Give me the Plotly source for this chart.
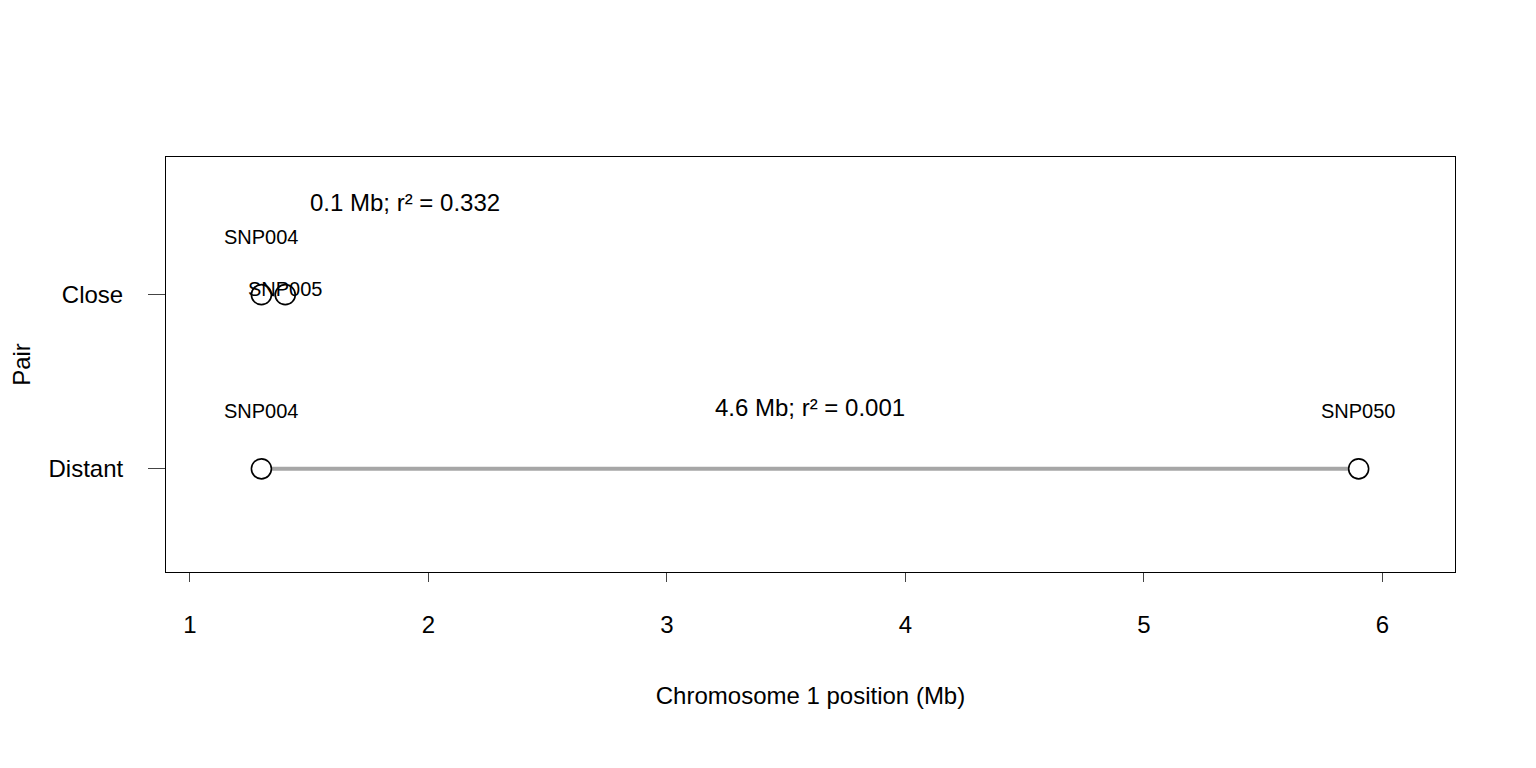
import plotly.graph_objects as go

pairs = ["Distant", "Close"]
pair_y = [1, 2]
snp_a = ["SNP004", "SNP004"]
snp_b = ["SNP050", "SNP005"]
pos_a = [1.3, 1.3]
pos_b = [5.9, 1.4]
dist_mb = [4.6, 0.1]
r2 = [0.001, 0.332]
x_ticks = [1, 2, 3, 4, 5, 6]

F = "Liberation Sans, Arial, sans-serif"
fig = go.Figure()
for i in range(len(pairs)):
    y = pair_y[i]
    fig.add_trace(go.Scatter(x=[pos_a[i], pos_b[i]], y=[y, y], mode="lines",
                             line=dict(color="#a6a6a6", width=4), showlegend=False, hoverinfo="skip"))
    fig.add_trace(go.Scatter(x=[pos_a[i], pos_b[i]], y=[y, y], mode="markers",
                             marker=dict(size=20, color="white", line=dict(color="black", width=1.6)),
                             showlegend=False))
    fig.add_annotation(x=pos_a[i], y=y + 0.33, text=snp_a[i], showarrow=False,
                       font=dict(size=20, family=F, color="black"))
    if abs(pos_b[i] - pos_a[i]) < 0.5:
        fig.add_annotation(x=pos_b[i], y=y + 0.03, text=snp_b[i], showarrow=False,
                           font=dict(size=20, family=F, color="black"))
        ty = y + 0.53
    else:
        fig.add_annotation(x=pos_b[i], y=y + 0.33, text=snp_b[i], showarrow=False,
                           font=dict(size=20, family=F, color="black"))
        ty = y + 0.35
    fig.add_annotation(x=(pos_a[i] + pos_b[i]) / 2 if i == 0 else 1.9, y=ty,
                       text=f"{dist_mb[i]} Mb; r² = {r2[i]:.3f}", showarrow=False,
                       font=dict(size=24, family=F, color="black"))

fig.update_layout(
    width=1536, height=768, plot_bgcolor="white", paper_bgcolor="white",
    margin=dict(l=149, r=89, t=149, b=204),
    font=dict(family=F, size=24, color="black"),
    xaxis=dict(range=[0.9, 6.304], tickvals=x_ticks, ticks="outside", ticklen=9,
               showgrid=False, zeroline=False, showline=True, mirror=True,
               linecolor="black", tickfont=dict(size=24), ticklabelstandoff=22,
               title=dict(text="Chromosome 1 position (Mb)", font=dict(size=24), standoff=50)),
    yaxis=dict(range=[0.408, 2.79], tickvals=pair_y, ticktext=pairs, ticks="outside",
               ticklen=17, showgrid=False, zeroline=False, showline=True, mirror=True,
               linecolor="black", tickfont=dict(size=24), ticklabelstandoff=20,
               title=dict(text="Pair", font=dict(size=24), standoff=12)),
)
fig.write_html("out.html")
